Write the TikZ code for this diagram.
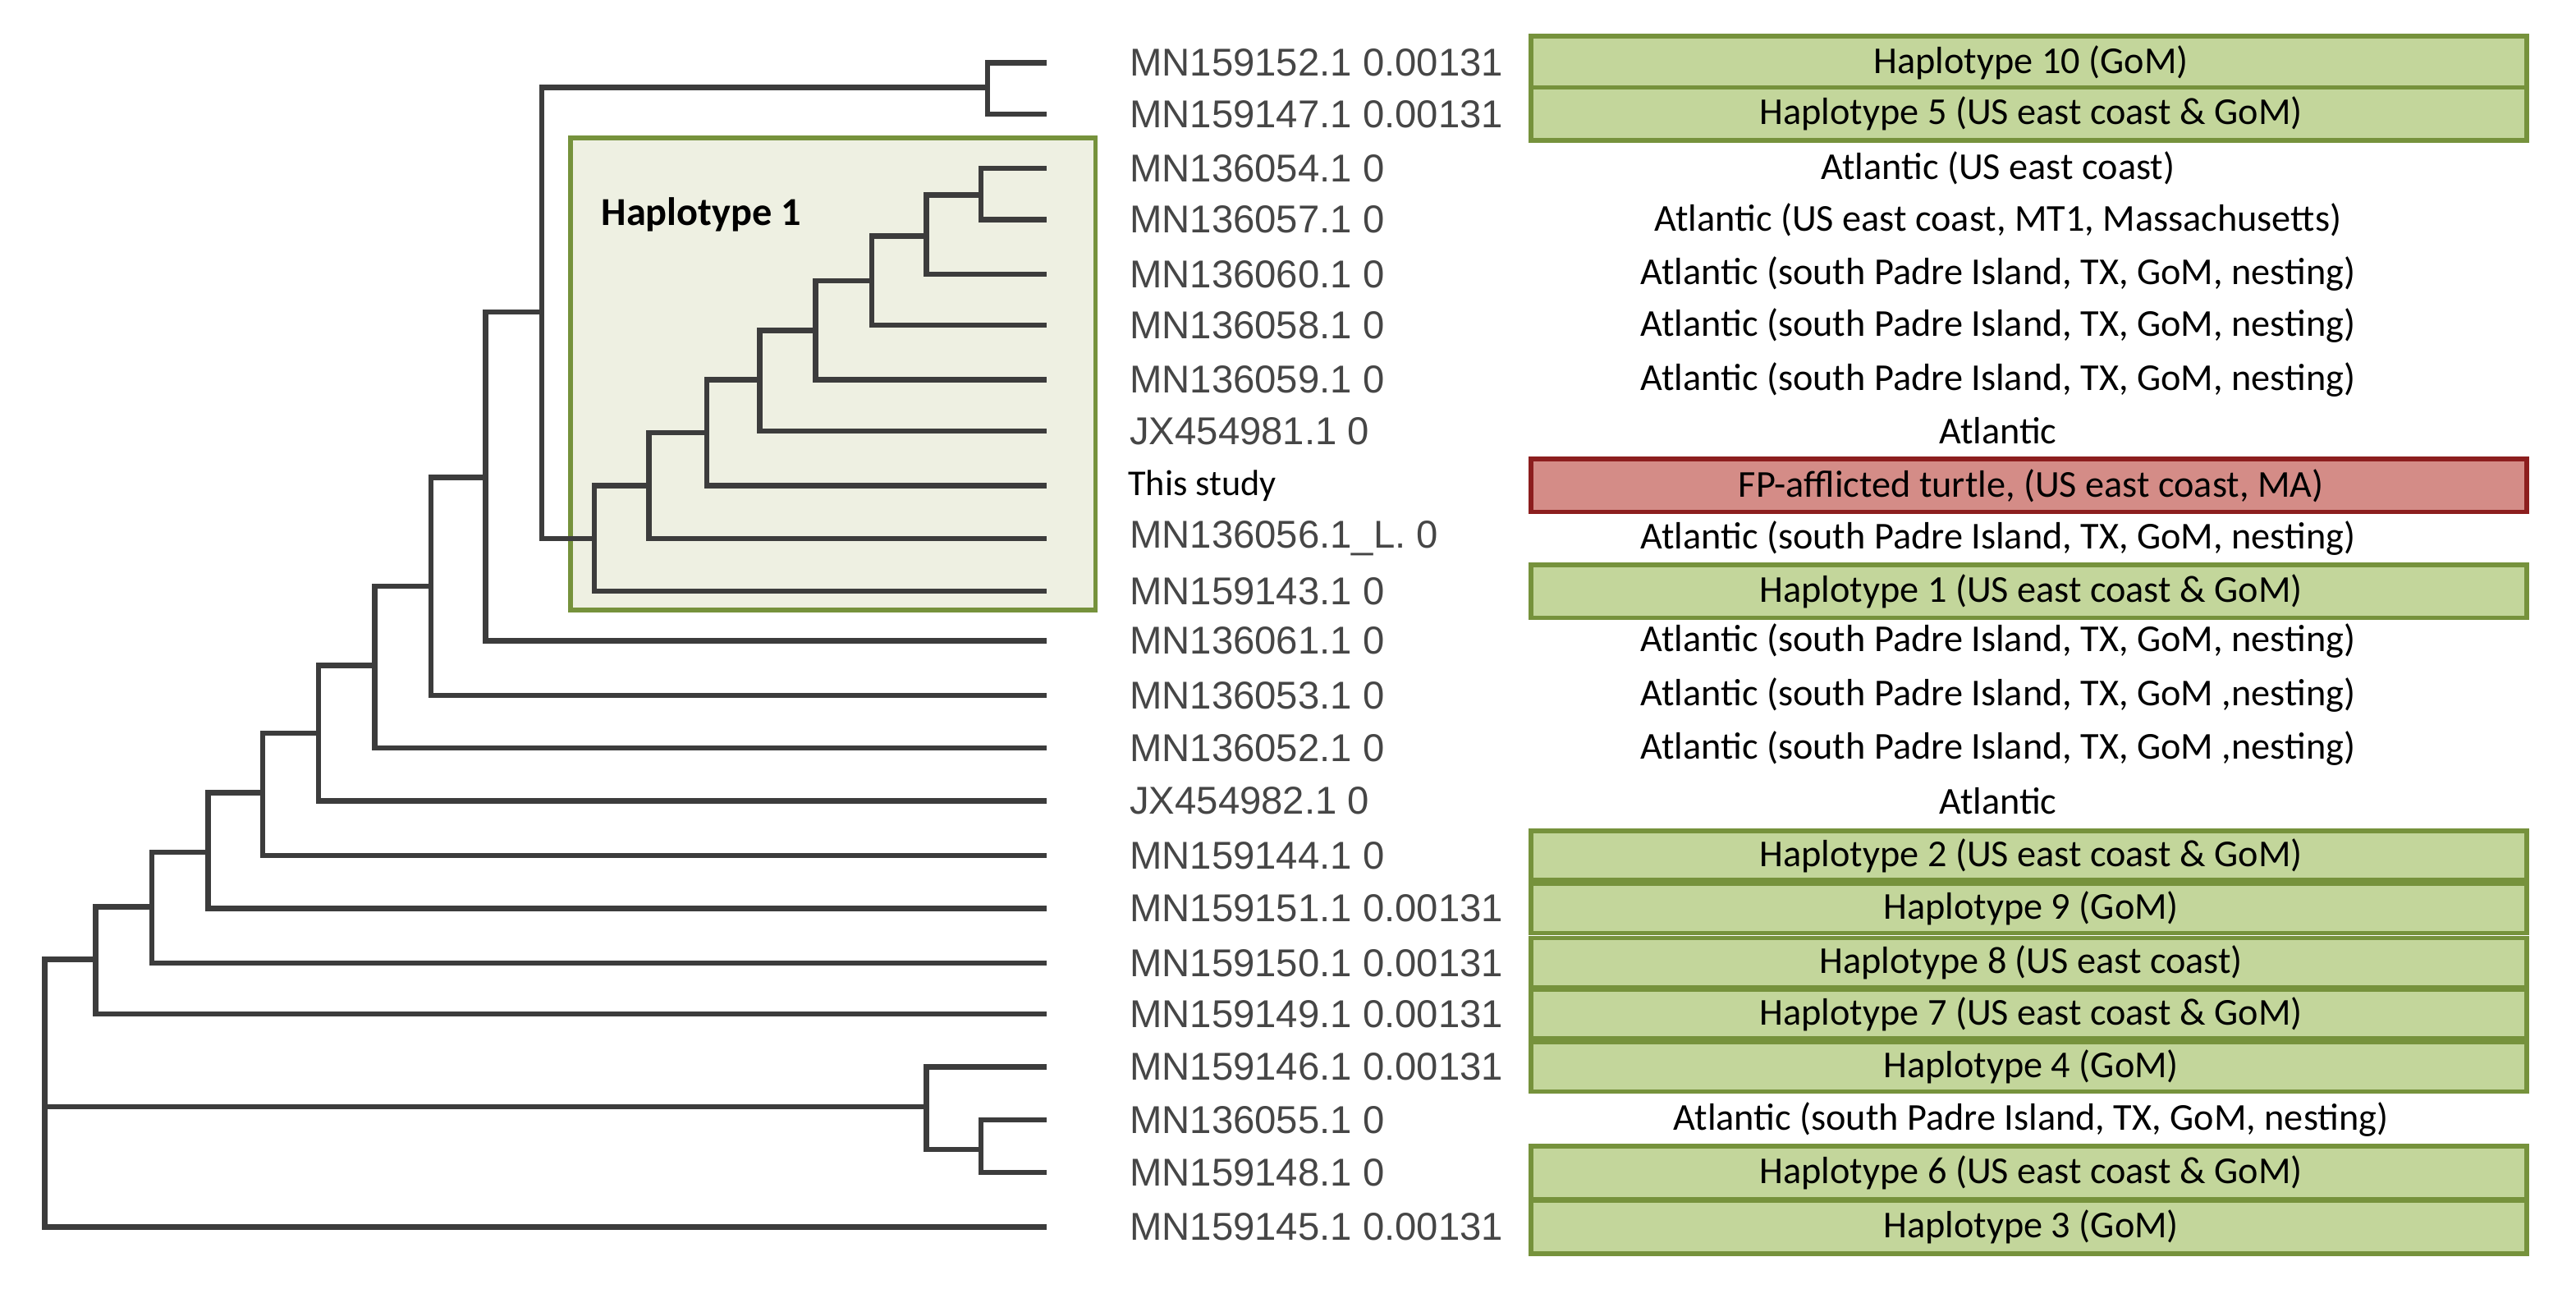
\documentclass[tikz,border=0pt]{standalone}
\usepackage{fontspec}
\setmainfont{Liberation Sans}
\newfontfamily\carl{Carlito}
\definecolor{tree}{RGB}{60,60,60}
\definecolor{acc}{RGB}{70,70,70}
\definecolor{gfill}{RGB}{195,214,155}
\definecolor{gline}{RGB}{118,146,60}
\definecolor{rfill}{RGB}{212,140,135}
\definecolor{rline}{RGB}{140,30,30}
\definecolor{hfill}{RGB}{238,240,226}
\begin{document}
\begin{tikzpicture}[x=1pt,y=-1pt,
  br/.style={draw=tree,line width=3.2pt,line cap=rect},
  acc/.style={anchor=west,inner sep=0,text=acc,font=\fontsize{23.5}{23.5}\selectfont},
  loc/.style={inner sep=0,font=\carl\fontsize{23}{23}\selectfont},
  gbox/.style={draw=gline,fill=gfill,line width=2.8pt},
  rbox/.style={draw=rline,fill=rfill,line width=2.8pt}]
\useasboundingbox (0,0) rectangle (1560,794.4);
% haplotype 1 region
\node[draw=gline,fill=hfill,line width=2.8pt,minimum width=318pt,minimum height=286pt,anchor=north west,inner sep=0] (H) at (344,82) {};
\node[anchor=west,inner sep=0,font=\carl\bfseries\fontsize{24}{24}\selectfont] (Ht) at (364,130) {Haplotype 1};
% leaves y
\def\yA{38}\def\yB{69}\def\yC{102}\def\yD{133}\def\yE{166}\def\yF{197}\def\yG{230}\def\yH{261}\def\yI{294}\def\yJ{326}\def\yK{358}\def\yL{388}\def\yM{421}\def\yN{453}\def\yO{485}\def\yP{518}\def\yQ{550}\def\yR{583}\def\yS{614}\def\yT{646}\def\yU{678}\def\yV{710}\def\yW{743}
% tree
\draw[br] (632,\yA) -| (598,\yB) -- (632,\yB);
\draw[br] (598,53) -| (328,326) -- (360,326);
\draw[br] (393,294) -| (360,\yK) -- (632,\yK);
\draw[br] (428,262) -| (393,\yJ) -- (632,\yJ);
\draw[br] (460,230) -| (428,\yI) -- (632,\yI);
\draw[br] (494,200) -| (460,\yH) -- (632,\yH);
\draw[br] (528,170) -| (494,\yG) -- (632,\yG);
\draw[br] (561,143) -| (528,\yF) -- (632,\yF);
\draw[br] (594,118) -| (561,\yE) -- (632,\yE);
\draw[br] (632,\yC) -| (594,\yD) -- (632,\yD);
\draw[br] (328,189) -| (294,\yL) -- (632,\yL);
\draw[br] (294,289) -| (261,\yM) -- (632,\yM);
\draw[br] (261,355) -| (227,\yN) -- (632,\yN);
\draw[br] (227,403) -| (193,\yO) -- (632,\yO);
\draw[br] (193,444) -| (159,\yP) -- (632,\yP);
\draw[br] (159,480) -| (126,\yQ) -- (632,\yQ);
\draw[br] (126,516) -| (92,\yR) -- (632,\yR);
\draw[br] (92,549) -| (58,\yS) -- (632,\yS);
\draw[br] (58,581) -| (27,\yW) -- (632,\yW);
\draw[br] (27,670) -- (561,670);
\draw[br] (632,\yT) -| (561,696) -- (594,696);
\draw[br] (632,\yU) -| (594,\yV) -- (632,\yV);
% boxes
\foreach \y/\h in {\yA/32,\yB/32,\yK/32,\yP/30,\yQ/30,\yR/30,\yS/30,\yT/30,\yV/32,\yW/32}
  \path[gbox] (927,\y-\h/2) rectangle (1530,\y+\h/2);
\path[rbox] (927,\yI-16) rectangle (1530,\yI+16);
% accession labels
\node[acc] (a1) at (684,\yA) {MN159152.1 0.00131};
\node[acc] (a2) at (684,\yB) {MN159147.1 0.00131};
\node[acc] (a3) at (684,\yC) {MN136054.1 0};
\node[acc] (a4) at (684,\yD) {MN136057.1 0};
\node[acc] (a5) at (684,\yE) {MN136060.1 0};
\node[acc] (a6) at (684,\yF) {MN136058.1 0};
\node[acc] (a7) at (684,\yG) {MN136059.1 0};
\node[acc] (a8) at (684,\yH) {JX454981.1 0};
\node[acc,text=black,font=\carl\fontsize{22}{22}\selectfont] (a9) at (683,\yI) {This study};
\node[acc] (a10) at (684,\yJ) {MN136056.1\_L. 0};
\node[acc] (a11) at (684,\yK) {MN159143.1 0};
\node[acc] (a12) at (684,\yL) {MN136061.1 0};
\node[acc] (a13) at (684,\yM) {MN136053.1 0};
\node[acc] (a14) at (684,\yN) {MN136052.1 0};
\node[acc] (a15) at (684,\yO) {JX454982.1 0};
\node[acc] (a16) at (684,\yP) {MN159144.1 0};
\node[acc] (a17) at (684,\yQ) {MN159151.1 0.00131};
\node[acc] (a18) at (684,\yR) {MN159150.1 0.00131};
\node[acc] (a19) at (684,\yS) {MN159149.1 0.00131};
\node[acc] (a20) at (684,\yT) {MN159146.1 0.00131};
\node[acc] (a21) at (684,\yU) {MN136055.1 0};
\node[acc] (a22) at (684,\yV) {MN159148.1 0};
\node[acc] (a23) at (684,\yW) {MN159145.1 0.00131};
% location labels
\def\spi{Atlantic (south Padre Island, TX, GoM, nesting)}
\node[loc] (l1) at (1230,\yA) {Haplotype 10 (GoM)};
\node[loc] (l2) at (1230,\yB) {Haplotype 5 (US east coast \& GoM)};
\node[loc] (l3) at (1210,\yC) {Atlantic (US east coast)};
\node[loc] (l4) at (1210,\yD) {Atlantic (US east coast, MT1, Massachusetts)};
\node[loc] (l5) at (1210,\yE) {\spi};
\node[loc] (l6) at (1210,\yF) {\spi};
\node[loc] (l7) at (1210,\yG) {\spi};
\node[loc] (l8) at (1210,\yH) {Atlantic};
\node[loc] (l9) at (1230,\yI) {FP-afflicted turtle, (US east coast, MA)};
\node[loc] (l10) at (1210,\yJ) {\spi};
\node[loc] (l11) at (1230,\yK) {Haplotype 1 (US east coast \& GoM)};
\node[loc] (l12) at (1210,\yL) {\spi};
\node[loc] (l13) at (1210,\yM) {Atlantic (south Padre Island, TX, GoM ,nesting)};
\node[loc] (l14) at (1210,\yN) {Atlantic (south Padre Island, TX, GoM ,nesting)};
\node[loc] (l15) at (1210,\yO) {Atlantic};
\node[loc] (l16) at (1230,\yP) {Haplotype 2 (US east coast \& GoM)};
\node[loc] (l17) at (1230,\yQ) {Haplotype 9 (GoM)};
\node[loc] (l18) at (1230,\yR) {Haplotype 8 (US east coast)};
\node[loc] (l19) at (1230,\yS) {Haplotype 7 (US east coast \& GoM)};
\node[loc] (l20) at (1230,\yT) {Haplotype 4 (GoM)};
\node[loc] (l21) at (1230,\yU) {\spi};
\node[loc] (l22) at (1230,\yV) {Haplotype 6 (US east coast \& GoM)};
\node[loc] (l23) at (1230,\yW) {Haplotype 3 (GoM)};
\end{tikzpicture}
\end{document}
